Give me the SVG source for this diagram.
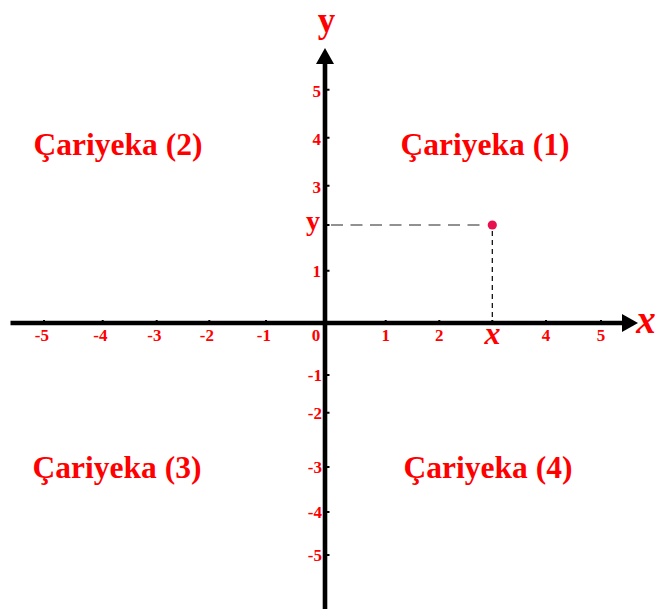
<svg xmlns="http://www.w3.org/2000/svg" width="657" height="609" viewBox="0 0 657 609">
<style>
.ax{stroke:#000;stroke-width:4.6;fill:none}
.tk{stroke:#000;stroke-width:2;fill:none}
.tl{font-family:"Liberation Serif",serif;font-weight:bold;font-size:17px;fill:#ff0000}
.q{font-family:"Liberation Serif",serif;font-weight:bold;font-size:31.5px;fill:#ff0000}
.lab{font-family:"Liberation Serif",serif;font-weight:bold;fill:#ff0000}
</style>
<rect width="657" height="609" fill="#fff"/>
<g id="connectors">
<line class="ax" x1="10.5" y1="323" x2="624" y2="323"/>
<polygon points="638,323 622,314 622,332" fill="#000"/>
<line class="ax" x1="325" y1="609" x2="325" y2="62"/>
<polygon points="325,48 316,64 334,64" fill="#000"/>
<line x1="331" y1="225" x2="486" y2="225" stroke="#6e6e6e" stroke-width="1.4" stroke-dasharray="12 7.5"/>
<line x1="492.3" y1="231" x2="492.3" y2="321" stroke="#000" stroke-width="1.2" stroke-dasharray="5 4"/>
</g>
<g id="x-ticks">
<path class="tk" d="M44,320v3M102.7,320v3M156.7,320v3M209.3,320v3M266,320v3M385.7,320v3M439.3,320v3M492.3,320v3M546,320v3M601,320v3"/>
<text class="tl" x="49" y="341" text-anchor="end">-5</text>
<text class="tl" x="107.5" y="341" text-anchor="end">-4</text>
<text class="tl" x="161.5" y="341" text-anchor="end">-3</text>
<text class="tl" x="214" y="341" text-anchor="end">-2</text>
<text class="tl" x="271" y="341" text-anchor="end">-1</text>
<text class="tl" x="316" y="341" text-anchor="middle">0</text>
<text class="tl" x="385.7" y="341" text-anchor="middle">1</text>
<text class="tl" x="439.3" y="341" text-anchor="middle">2</text>
<text class="tl" x="546" y="341" text-anchor="middle">4</text>
<text class="tl" x="601" y="341" text-anchor="middle">5</text>
</g>
<g id="y-ticks">
<path class="tk" d="M325,89.7h4.5M325,137.7h4.5M325,185.7h4.5M325,225h4.5M325,270.7h4.5M325,375h4.5M325,412.7h4.5M325,467h4.5M325,512h4.5M325,555h4.5"/>
<text class="tl" x="321" y="97" text-anchor="end">5</text>
<text class="tl" x="321" y="145" text-anchor="end">4</text>
<text class="tl" x="321" y="193" text-anchor="end">3</text>
<text class="tl" x="321" y="277" text-anchor="end">1</text>
<text class="tl" x="322" y="381" text-anchor="end">-1</text>
<text class="tl" x="322" y="419" text-anchor="end">-2</text>
<text class="tl" x="322" y="473" text-anchor="end">-3</text>
<text class="tl" x="322" y="518" text-anchor="end">-4</text>
<text class="tl" x="322" y="561" text-anchor="end">-5</text>
</g>
<g id="axis-labels">
<text class="lab" x="326.5" y="31.5" font-size="35" text-anchor="middle">y</text>
<text class="lab" x="646" y="333" font-size="39" font-style="italic" text-anchor="middle">x</text>
<text class="lab" x="313" y="229.5" font-size="28" text-anchor="middle">y</text>
<text class="lab" x="492.5" y="344" font-size="32" font-style="italic" text-anchor="middle">x</text>
</g>
<g id="point">
<circle cx="492.3" cy="225" r="4.6" fill="#e8114f"/>
</g>
<g id="quadrant-1"><text class="q" x="485" y="155" text-anchor="middle">Çariyeka (1)</text></g>
<g id="quadrant-2"><text class="q" x="118" y="155" text-anchor="middle">Çariyeka (2)</text></g>
<g id="quadrant-3"><text class="q" x="117" y="478" text-anchor="middle">Çariyeka (3)</text></g>
<g id="quadrant-4"><text class="q" x="488" y="478" text-anchor="middle">Çariyeka (4)</text></g>
</svg>
